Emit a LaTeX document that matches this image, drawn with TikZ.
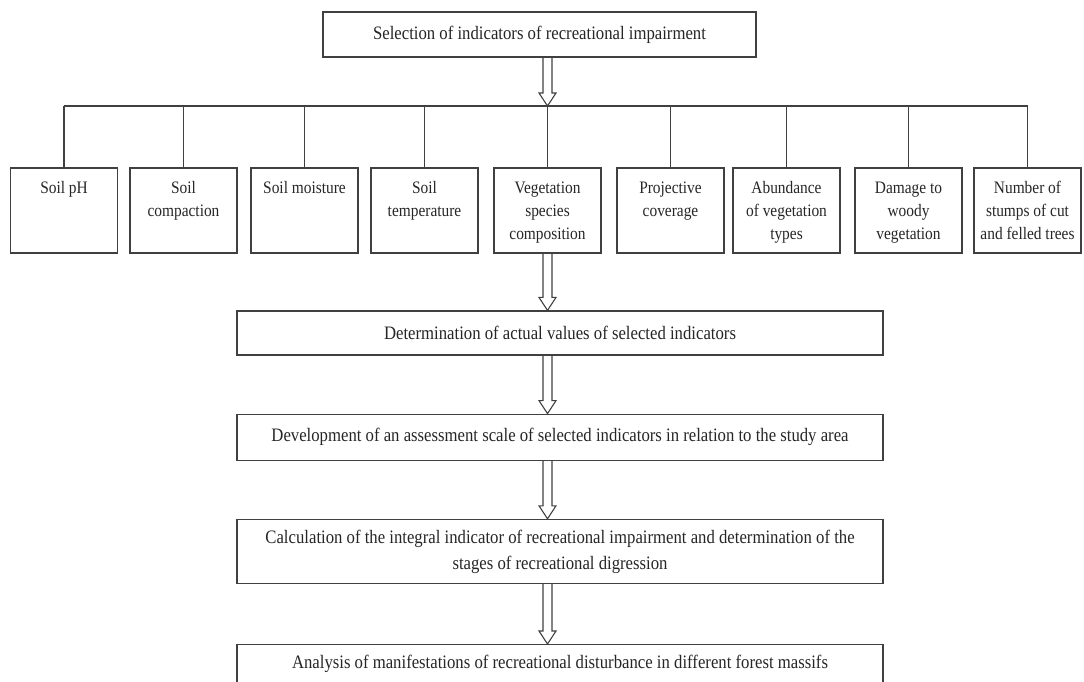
\documentclass[tikz,border=0pt]{standalone}
\usepackage{fontspec}
\setmainfont[FakeStretch=0.88]{Liberation Serif}
\usepackage{tikz}
\usetikzlibrary{positioning,calc}

\newcommand{\indtext}[1]{\parbox[c][85pt][t]{104pt}{\centering\rule{0pt}{25pt}#1}}

\begin{document}
\begin{tikzpicture}[
    x=1pt, y=-1pt,
    node distance=58pt,
    every node/.style={text=black!85},
    box/.style={draw=black!75, line width=1.2pt},
    stage/.style={box, minimum width=646pt, minimum height=46pt, align=center, font=\fontsize{19}{26}\selectfont},
    ind/.style={box, inner sep=0pt, minimum width=107pt, minimum height=85pt, font=\fontsize{17.5}{23}\selectfont},
    hollow/.style={draw=black!75, line width=1.1pt, line join=miter, to path={
        let \p1=(\tikztostart), \p2=(\tikztotarget) in
        (\x1-4.5pt,\y1) -- (\x1-4.5pt,\y2+13pt) -- (\x1-8.5pt,\y2+13pt) -- (\x1,\y2)
        -- (\x1+8.5pt,\y2+13pt) -- (\x1+4.5pt,\y2+13pt) -- (\x1+4.5pt,\y1)}}
]
\useasboundingbox (0,0) rectangle (1084,681);

\node[box, minimum width=433pt, minimum height=45pt, font=\fontsize{19}{26}\selectfont] (sel) at (539.5,34.5) {Selection of indicators of recreational impairment};
\coordinate (bus) at (0,106);

\node[ind] (b1) at (64,210.5) {\indtext{Soil pH}};
\node[ind] (b2) at (183.5,210.5) {\indtext{Soil\\compaction}};
\node[ind] (b3) at (304.5,210.5) {\indtext{Soil moisture}};
\node[ind] (b4) at (424.5,210.5) {\indtext{Soil\\temperature}};
\node[ind] (b5) at (547.5,210.5) {\indtext{Vegetation\\species\\composition}};
\node[ind] (b6) at (670.5,210.5) {\indtext{Projective\\coverage}};
\node[ind] (b7) at (786.5,210.5) {\indtext{Abundance\\of vegetation\\types}};
\node[ind] (b8) at (908.5,210.5) {\indtext{Damage to\\woody\\vegetation}};
\node[ind] (b9) at (1027.5,210.5) {\indtext{Number of\\stumps of cut\\and felled trees}};

\node[stage, minimum height=44pt] (det) at (560,333) {Determination of actual values of selected indicators};
\node[stage] (dev) [below=58pt of det] {Development of an assessment scale of selected indicators in relation to the study area};
\node[stage, minimum height=64pt] (calc) [below=58pt of dev] {Calculation of the integral indicator of recreational impairment and determination of the\\stages of recreational digression};
\node[stage, minimum height=39pt] (ana) [below=60pt of calc] {Analysis of manifestations of recreational disturbance in different forest massifs};

% selection to the indicators
\draw[hollow] (sel.south -| b5) to (b5.north |- bus);
\draw[box] (b1.north |- bus) -- (b9.north |- bus);
\draw[box] (b1.north |- bus) -- (b1.north);
\draw[box] (b2.north |- bus) -- (b2.north);
\draw[box] (b3.north |- bus) -- (b3.north);
\draw[box] (b4.north |- bus) -- (b4.north);
\draw[box] (b5.north |- bus) -- (b5.north);
\draw[box] (b6.north |- bus) -- (b6.north);
\draw[box] (b7.north |- bus) -- (b7.north);
\draw[box] (b8.north |- bus) -- (b8.north);
\draw[box] (b9.north |- bus) -- (b9.north);

% main sequence
\draw[hollow] (b5.south) to (b5.south |- det.north);
\draw[hollow] (det.south -| b5) to (b5.south |- dev.north);
\draw[hollow] (dev.south -| b5) to (b5.south |- calc.north);
\draw[hollow] (calc.south -| b5) to (b5.south |- ana.north);
\end{tikzpicture}
\end{document}
